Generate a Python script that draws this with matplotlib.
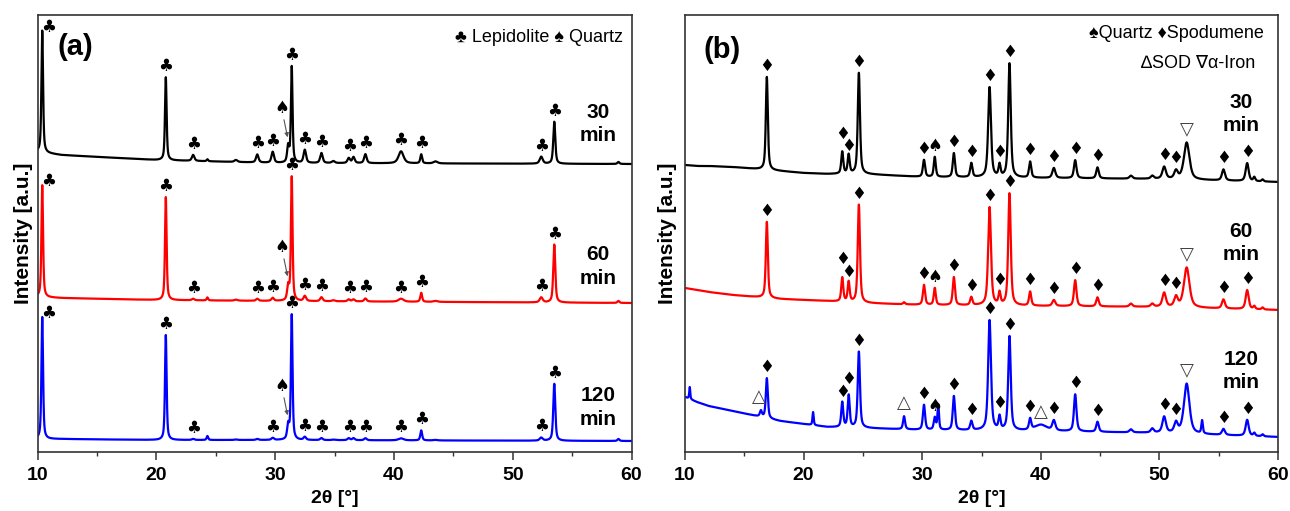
import numpy as np
import matplotlib
matplotlib.use("Agg")
import matplotlib.pyplot as plt

plt.rcParams["font.family"] = ["Liberation Sans", "DejaVu Sans"]
SYM = ["DejaVu Sans"]

two_theta = np.linspace(10, 60, 8001)

# ---------------- Panel (a): lepidolite ----------------
a_labels = ["30\nmin", "60\nmin", "120\nmin"]
a_colors = ["black", "red", "blue"]
a_base_pos = [10, 12, 20, 30, 60]
a_base_30 = [300, 297, 292, 289, 288]
a_base_60 = [155, 154, 152, 151, 149]
a_base_120 = [13, 13, 12, 12, 11]

a_peak_pos = [10.4, 20.8, 23.1, 24.3, 26.7, 28.5, 29.8, 31.1, 31.4, 32.5, 33.9,
              34.9, 36.2, 36.6, 37.6, 40.6, 42.3, 43.5, 52.4, 53.5, 58.9]
a_peak_fwhm = [0.16, 0.16, 0.25, 0.15, 0.3, 0.25, 0.25, 0.2, 0.16, 0.25, 0.25,
               0.3, 0.25, 0.25, 0.25, 0.5, 0.18, 0.4, 0.3, 0.2, 0.2]
a_int_30 = [122, 83, 6, 2, 2, 8, 11, 16, 96, 13, 10,
            2, 5, 6, 9, 12, 9, 2, 7, 42, 2]
a_int_60 = [112, 103, 1.5, 3, 1, 2, 3, 14, 124, 5, 4,
            1, 2, 2, 3, 3, 9, 1, 5, 58, 2]
a_int_120 = [122, 105, 1, 4, 0.5, 1, 2, 14, 125, 3, 2,
             0.5, 2, 2, 2, 2, 10, 0.5, 3, 57, 2]

a_clubs_30 = [10.4, 20.8, 23.1, 28.5, 29.8, 31.4, 32.5, 33.9, 36.3, 37.6, 40.6, 42.3, 52.4, 53.5]
a_clubs_60 = [10.4, 20.8, 23.1, 28.5, 29.8, 31.4, 32.5, 33.9, 36.3, 37.6, 40.6, 42.3, 52.4, 53.5]
a_clubs_120 = [10.4, 20.8, 23.1, 29.8, 31.4, 32.5, 33.9, 36.3, 37.6, 40.6, 42.3, 52.4, 53.5]
a_quartz_pos = 31.1

# ---------------- Panel (b): spodumene ----------------
b_labels = ["30\nmin", "60\nmin", "120\nmin"]
b_colors = ["black", "red", "blue"]
b_base_pos = [10, 11, 12, 14, 16, 18, 20, 22, 25, 30, 40, 50, 60]
b_base_30 = [287, 286, 286, 285, 283, 281, 279, 278, 278, 275, 274, 273, 270]
b_base_60 = [164, 162, 160, 157, 155, 153, 152, 151, 149, 147, 146, 145, 142]
b_base_120 = [55, 50, 46, 41, 36, 31, 28, 25, 24, 22, 21, 19, 15]

b_peak_pos = [10.4, 16.4, 16.9, 20.8, 23.26, 23.8, 24.66, 28.47, 30.15, 31.06, 31.35,
              32.67, 34.14, 35.68, 36.52, 37.36, 39.1, 40.0, 41.1, 42.9, 44.78,
              47.6, 49.4, 50.4, 51.4, 52.3, 53.6, 55.4, 57.4, 58.0, 58.7]
b_peak_fwhm = [0.1, 0.2, 0.2, 0.12, 0.2, 0.2, 0.22, 0.2, 0.22, 0.2, 0.15,
               0.22, 0.22, 0.28, 0.2, 0.25, 0.22, 1.2, 0.3, 0.25, 0.25,
               0.3, 0.3, 0.35, 0.35, 0.55, 0.15, 0.3, 0.3, 0.2, 0.2]
b_int_30 = [0, 0, 93, 0, 22, 19, 101, 0, 17, 20, 0,
            24, 14, 90, 12, 114, 16, 0, 10, 18, 11,
            3, 3, 12, 8, 37, 0, 11, 18, 4, 2]
b_int_60 = [0, 0, 76, 0, 24, 20, 98, 2, 20, 17, 0,
            28, 8, 98, 12, 112, 14, 0, 6, 26, 9,
            3, 3, 14, 10, 40, 0, 9, 19, 3, 2]
b_int_120 = [12, 6, 40, 13, 25, 32, 76, 13, 25, 12, 25,
             34, 9, 110, 13, 94, 11, 6, 10, 37, 10,
             3, 4, 16, 10, 50, 13, 6, 16, 3, 2]

DIA, SPADE, DOWN, UP = "\u2666", "\u2660", "\u25bd", "\u25b3"
b_marks_common = [(DIA, 16.9), (DIA, 23.26), (DIA, 23.8), (DIA, 24.66), (DIA, 30.15),
                  (SPADE, 31.06), (DIA, 32.67), (DIA, 34.14), (DIA, 35.68), (DIA, 36.52),
                  (DIA, 37.36), (DIA, 39.1), (DIA, 41.1), (DIA, 42.9), (DIA, 44.78),
                  (DIA, 50.4), (DIA, 51.4), (DOWN, 52.3), (DIA, 55.4), (DIA, 57.4)]
b_marks_120 = b_marks_common + [(UP, 16.4), (UP, 28.47), (UP, 40.0)]
# staggered label heights for the close 23.3/23.8 doublet
b_stagger_30 = {23.26: 17, 23.8: 8}
b_stagger_60 = {23.26: 18, 23.8: 9}
b_stagger_120 = {23.26: 9, 23.8: 15}


def pattern(pos, fwhm, heights, base_pos, base_val, eta=0.6):
    y = np.interp(two_theta, base_pos, base_val).astype(float)
    for p, w, h in zip(pos, fwhm, heights):
        d = (two_theta - p) / w
        lor = 1.0 / (1.0 + 4.0 * d ** 2)
        gau = np.exp(-4.0 * np.log(2) * d ** 2)
        y += h * (eta * lor + (1 - eta) * gau)
    return y


def local_top(y, p, win=0.15):
    m = (two_theta > p - win) & (two_theta < p + win)
    return y[m].max()


fig = plt.figure(figsize=(12.9, 5.11), dpi=100)
W, H = 1290, 511
ax_a = fig.add_axes([37.5 / W, (H - 452) / H, 594 / W, 437.5 / H])
ax_b = fig.add_axes([685 / W, (H - 452) / H, 593 / W, 437.5 / H])

for ax in (ax_a, ax_b):
    ax.set_xlim(10, 60)
    ax.set_ylim(0, 437.5)
    ax.set_yticks([])
    ax.set_xticks([10, 20, 30, 40, 50, 60])
    ax.set_xticks([15, 25, 35, 45, 55], minor=True)
    ax.tick_params(axis="x", which="major", direction="out", length=6, width=1.1,
                   labelsize=14, pad=5, color="#333333")
    ax.tick_params(axis="x", which="minor", direction="out", length=3, width=1.0,
                   color="#333333")
    for t in ax.get_xticklabels():
        t.set_fontweight("bold")
    for s in ax.spines.values():
        s.set_color("#333333")
        s.set_linewidth(1.2)
    ax.set_xlabel("2\u03b8 [\u00b0]", fontsize=14, fontweight="bold", labelpad=4)
    ax.set_ylabel("Intensity [a.u.]", fontsize=15, fontweight="bold")
    ax.yaxis.label.set_va("center")

ax_a.yaxis.set_label_coords(-0.024, 0.5)
ax_b.yaxis.set_label_coords(-0.030, 0.5)

# ---- draw panel (a)
a_sets = [(a_int_30, a_base_30, a_clubs_30), (a_int_60, a_base_60, a_clubs_60),
          (a_int_120, a_base_120, a_clubs_120)]
a_label_y = [328, 185.5, 44.5]
for (ints, base, clubs), col, lab, ly in zip(a_sets, a_colors, a_labels, a_label_y):
    y = pattern(a_peak_pos, a_peak_fwhm, ints, a_base_pos, base)
    ax_a.plot(two_theta, y, color=col, lw=1.6)
    for p in clubs:
        top = local_top(y, p, 0.3 if p in (36.3, 37.6) else 0.15)
        if p == 10.4:
            ax_a.text(p + 0.5, top + 4, "\u2663", ha="center", va="center",
                      fontsize=12, family=SYM)
        else:
            ax_a.text(p, top + 11, "\u2663", ha="center", va="center",
                      fontsize=12, family=SYM)
    sh = float(np.interp(a_quartz_pos, two_theta, y))
    ax_a.annotate("", xy=(a_quartz_pos, sh + 3), xytext=(30.7, sh + 26),
                  arrowprops=dict(arrowstyle="-|>", color="#555555", lw=0.8,
                                  mutation_scale=6))
    ax_a.text(30.6, sh + 35, SPADE, ha="center", va="center", fontsize=12, family=SYM)
    ax_a.text(57.2, ly, lab, ha="center", va="center", fontsize=15,
              fontweight="bold", linespacing=1.3)

ax_a.text(13.2, 405, "(a)", ha="center", va="center", fontsize=21, fontweight="bold")
ax_a.text(59.3, 415, "\u2663 Lepidolite \u2660 Quartz", ha="right", va="center",
          fontsize=13)

# ---- draw panel (b)
b_sets = [(b_int_30, b_base_30, b_marks_common, b_stagger_30),
          (b_int_60, b_base_60, b_marks_common, b_stagger_60),
          (b_int_120, b_base_120, b_marks_120, b_stagger_120)]
b_label_y = [338, 209, 81]
for (ints, base, marks, stagger), col, lab, ly in zip(b_sets, b_colors, b_labels, b_label_y):
    y = pattern(b_peak_pos, b_peak_fwhm, ints, b_base_pos, base)
    ax_b.plot(two_theta, y, color=col, lw=1.6)
    for sym, p in marks:
        top = local_top(y, p, 0.12)
        dy = 11
        px = p
        fs = 12
        color = "black"
        if sym in (UP, DOWN):
            color = "#444444"
            fs = 13
            dy = 13
        if sym == UP and p == 16.4:
            px = 16.2
        if sym == DIA and p in stagger:
            dy = stagger[p]
        ax_b.text(px, top + dy, sym, ha="center", va="center", fontsize=fs,
                  color=color, family=SYM)
    ax_b.text(56.9, ly, lab, ha="center", va="center", fontsize=15,
              fontweight="bold", linespacing=1.3)

ax_b.text(13.1, 402, "(b)", ha="center", va="center", fontsize=21, fontweight="bold")
ax_b.text(58.8, 419, "\u2660Quartz \u2666Spodumene", ha="right", va="center",
          fontsize=13, family=["Liberation Sans", "DejaVu Sans"])
ax_b.text(58.1, 389, "\u2206SOD \u2207\u03b1-Iron", ha="right", va="center",
          fontsize=13, family=["Liberation Sans", "DejaVu Sans"])

fig.savefig("out.png", dpi=100)
